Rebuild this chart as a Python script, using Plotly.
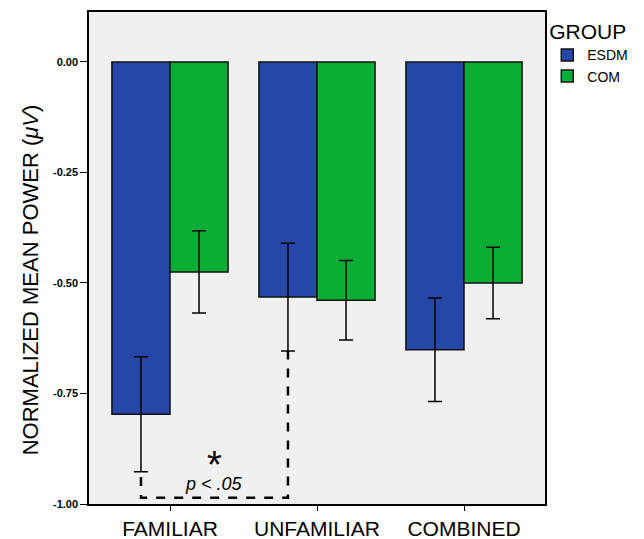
import plotly.graph_objects as go

categories = ["FAMILIAR", "UNFAMILIAR", "COMBINED"]
esdm_mean = [-0.797, -0.532, -0.651]
esdm_err = [0.130, 0.122, 0.117]
com_mean = [-0.475, -0.539, -0.500]
com_err = [0.093, 0.090, 0.081]
y_ticks = [0.0, -0.25, -0.5, -0.75, -1.0]
y_tick_labels = ["0.00", "-0.25", "-0.50", "-0.75", "-1.00"]
sig_line_y = -0.986

BLUE = "#2447a8"
GREEN = "#0aae35"
bw = 0.395
xs = list(range(len(categories)))

fig = go.Figure()
fig.add_trace(go.Bar(
    x=xs, y=esdm_mean, name="ESDM", width=bw, offset=-bw,
    marker=dict(color=BLUE, line=dict(color="#111111", width=1.5)),
    error_y=dict(type="data", array=esdm_err, color="black", thickness=1.5, width=7),
))
fig.add_trace(go.Bar(
    x=xs, y=com_mean, name="COM", width=bw, offset=0,
    marker=dict(color=GREEN, line=dict(color="#111111", width=1.5)),
    error_y=dict(type="data", array=com_err, color="black", thickness=1.5, width=7),
))

# significance bracket between ESDM FAMILIAR and ESDM UNFAMILIAR
x1 = xs[0] - bw / 2
x2 = xs[1] - bw / 2
fig.add_trace(go.Scatter(
    x=[x1, x1, x2, x2],
    y=[esdm_mean[0] - esdm_err[0] - 0.012, sig_line_y, sig_line_y, esdm_mean[1] - esdm_err[1]],
    mode="lines", line=dict(color="black", width=2.5, dash="dash"),
    showlegend=False, hoverinfo="skip",
))
fig.add_annotation(x=(x1 + x2) / 2, y=-0.912, text="*", showarrow=False,
                   font=dict(size=38, color="black", family="Liberation Sans"))
fig.add_annotation(x=(x1 + x2) / 2, y=-0.955, text="<i>p &lt; .05</i>", showarrow=False,
                   font=dict(size=18, color="black", family="Liberation Sans"))
fig.add_annotation(xref="paper", yref="paper", x=-0.129, y=0.455, textangle=-90,
                   xanchor="center", yanchor="middle",
                   text="NORMALIZED MEAN POWER (<i>μV</i>)", showarrow=False,
                   font=dict(size=22, color="black", family="Liberation Sans"))

fig.update_layout(
    width=636, height=531,
    margin=dict(l=81, r=99, t=4, b=35),
    paper_bgcolor="white", plot_bgcolor="#f0f0f0",
    font=dict(family="Liberation Sans", color="black"),
    barmode="overlay",
    legend=dict(
        x=1.005, y=1.0, xanchor="left", yanchor="top",
        title=dict(text="GROUP", font=dict(size=21)),
        font=dict(size=14), itemwidth=30, tracegroupgap=0,
        bgcolor="rgba(0,0,0,0)",
    ),
    xaxis=dict(
        range=[-0.551, 2.551], tickvals=xs, ticktext=categories,
        tickfont=dict(size=21), ticks="outside", ticklen=5, tickcolor="black",
        showline=True, linecolor="black", linewidth=1.5, mirror=True,
        showgrid=False, zeroline=False, automargin=False,
    ),
    yaxis=dict(
        range=[-1.0, 0.113], tickvals=y_ticks, ticktext=y_tick_labels,
        tickfont=dict(size=11, family="Liberation Sans", weight="bold"),
        ticks="outside", ticklen=7, tickcolor="black",
        showline=True, linecolor="black", linewidth=1.5, mirror=True,
        showgrid=False, zeroline=False, automargin=False,
    ),
)
fig.write_html("out.html")
